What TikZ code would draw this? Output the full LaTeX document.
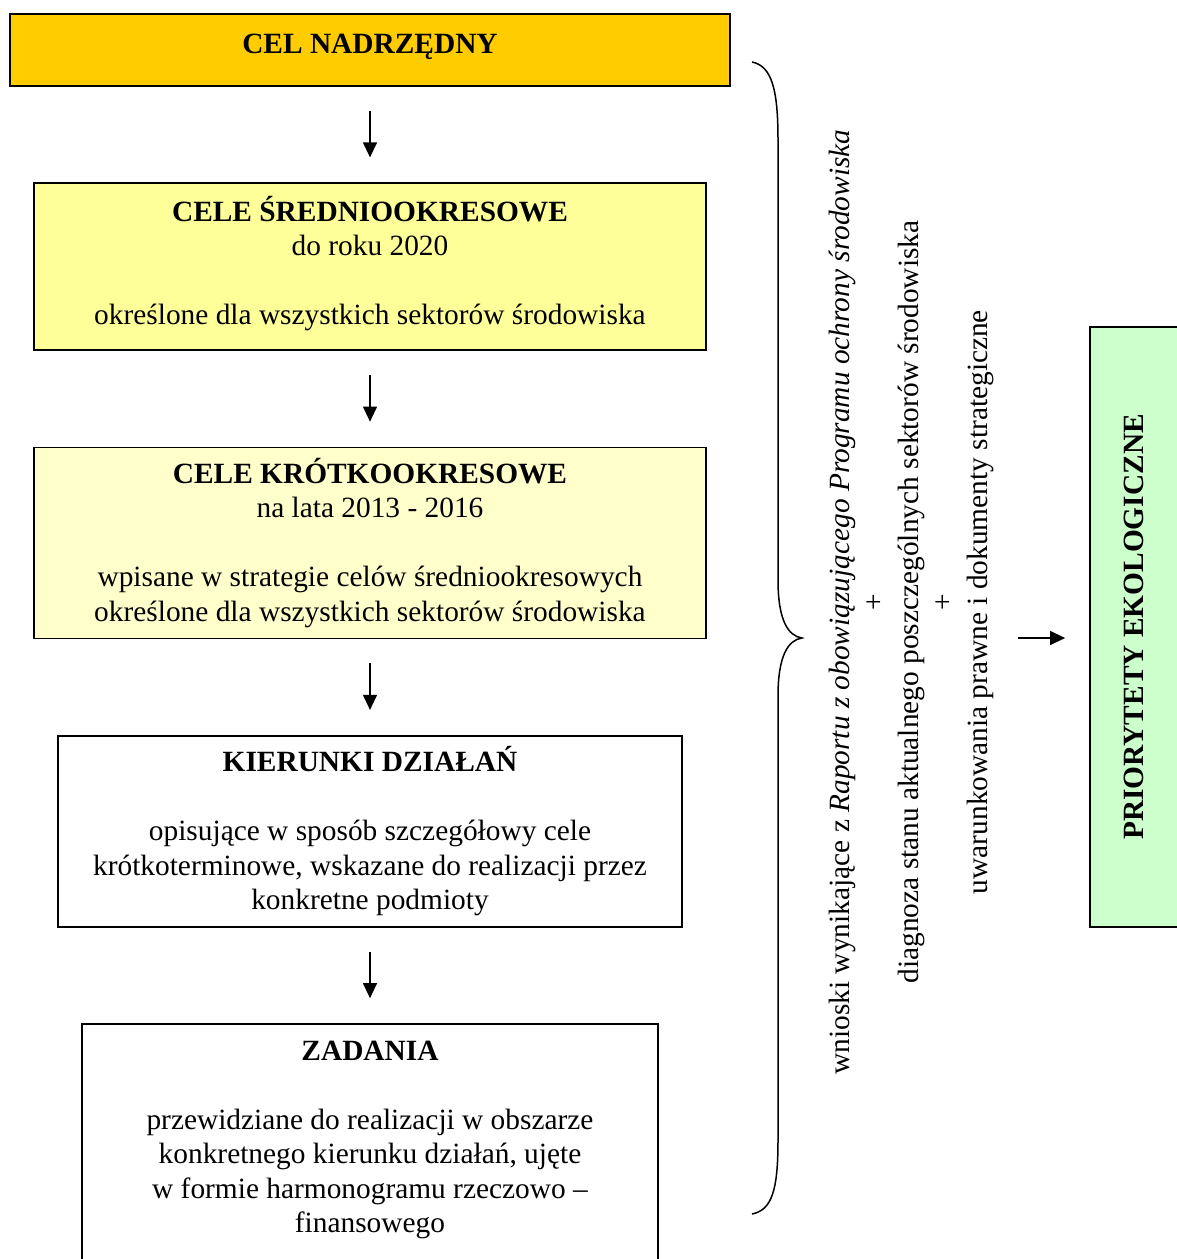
\documentclass[tikz,border=0pt]{standalone}
\usepackage{fontspec}
\setmainfont{Liberation Serif}
\usetikzlibrary{positioning,arrows.meta}

\definecolor{goalgold}{HTML}{FFCC00}
\definecolor{midyellow}{HTML}{FFFF99}
\definecolor{shortyellow}{HTML}{FFFFCC}
\definecolor{ecogreen}{HTML}{CCFFCC}
\def\px{0.4pt}

\begin{document}
\begin{tikzpicture}[x=\px,y=-\px,node distance=38.2pt]
  \tikzset{box/.style={draw,line width=0.7pt,align=center,inner sep=0pt,font=\fontsize{11.75}{13.8}\selectfont},
    flow/.style={-{Triangle[length=6pt,width=5.6pt]},line width=0.5pt,shorten <=9.6pt,shorten >=10pt}}
  \useasboundingbox (0,0) rectangle (1176,1259);

  \node[box,fill=goalgold,minimum width=288pt,minimum height=28.8pt,text height=8pt,text depth=5pt] at (370,50) (main) {\textbf{CEL NADRZĘDNY}};
  \node[box,fill=midyellow,minimum width=268.8pt,minimum height=66.8pt,text depth=5pt] (medium) [below=of main]
    {\textbf{CELE ŚREDNIOOKRESOWE}\\do roku 2020\\[\baselineskip]określone dla wszystkich sektorów środowiska};
  \node[box,fill=shortyellow,minimum width=268.8pt,minimum height=76.4pt] (short) [below=of medium]
    {\textbf{CELE KRÓTKOOKRESOWE}\\na lata 2013 - 2016\\[\baselineskip]wpisane w strategie celów średniookresowych\\określone dla wszystkich sektorów środowiska};
  \node[box,minimum width=249.6pt,minimum height=76.4pt] (actions) [below=of short]
    {\textbf{KIERUNKI DZIAŁAŃ}\\[\baselineskip]opisujące w sposób szczegółowy cele\\krótkoterminowe, wskazane do realizacji przez\\konkretne podmioty};
  \node[box,minimum width=230.4pt,minimum height=104pt] (tasks) [below=of actions]
    {\textbf{ZADANIA}\\[\baselineskip]przewidziane do realizacji w obszarze\\konkretnego kierunku działań, ujęte\\w formie harmonogramu rzeczowo –\\finansowego\\ \mbox{}};

  \foreach \a/\b in {main/medium,medium/short,short/actions,actions/tasks}
    \draw[flow] (\a) -- (\b);

  % brace
  \draw[line width=0.6pt] (752,62) .. controls (772,66) and (778,90) .. (778,140) -- (778,580)
    .. controls (778,620) and (788,636) .. (802,638)
    .. controls (788,640) and (778,656) .. (778,696) -- (778,1140)
    .. controls (778,1190) and (772,1210) .. (752,1214);
  \coordinate (tip) at (802,638);

  \node[align=center,rotate=90,font=\fontsize{11.75}{13.8}\selectfont] (factors) at (911,602)
    {wnioski wynikające z \textit{Raportu z obowiązującego Programu ochrony środowiska}\\+\\diagnoza stanu aktualnego poszczególnych sektorów środowiska\\+\\uwarunkowania prawne i dokumenty strategiczne};

  \node[box,fill=ecogreen,rotate=90,minimum width=240pt,minimum height=35.2pt] (prio) at (1134,627) {\textbf{PRIORYTETY EKOLOGICZNE}};
  \draw[flow,shorten <=86.4pt,shorten >=9.6pt] (tip) -- (prio.north |- tip);
\end{tikzpicture}
\end{document}
